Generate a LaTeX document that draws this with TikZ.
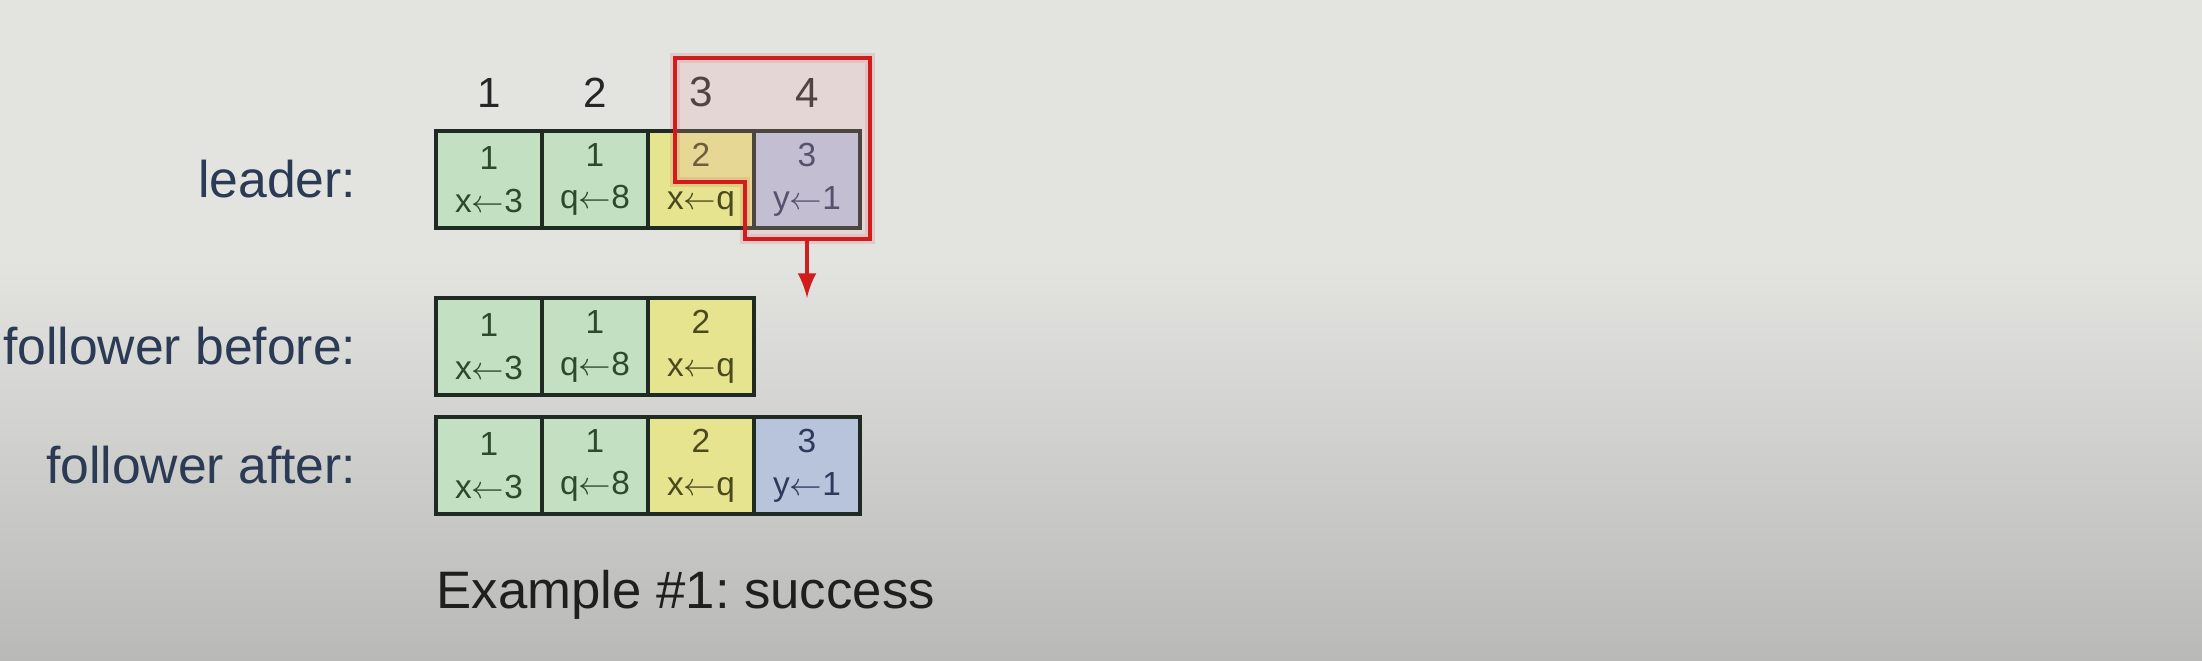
\documentclass[tikz,border=0pt]{standalone}
\usepackage{fontspec}
\setmainfont{Liberation Sans}
\usetikzlibrary{positioning, arrows}
\frenchspacing

\definecolor{bgtop}{HTML}{E3E3E0}
\definecolor{bgbot}{HTML}{B9B9B7}
\definecolor{cellgreen}{HTML}{C4E0C2}
\definecolor{cellyellow}{HTML}{E6E48E}
\definecolor{cellblue}{HTML}{B8C4DC}
\definecolor{txtgreen}{HTML}{2D4A2D}
\definecolor{txtyellow}{HTML}{4A4A1E}
\definecolor{txtblue}{HTML}{2C3A5C}
\definecolor{cellline}{HTML}{1F2A22}
\definecolor{labelblue}{HTML}{2B3A55}
\definecolor{winred}{HTML}{D01C1C}
\definecolor{winfill}{HTML}{EBAAAF}

\tikzset{
	cell/.style={draw=cellline, line width=1.1pt, minimum width=1.06cm, minimum height=0.97cm,
		inner sep=0pt, outer sep=0pt, align=center, font=\fontsize{9.5}{12.2}\selectfont},
	gcell/.style={cell, fill=cellgreen, text=txtgreen},
	ycell/.style={cell, fill=cellyellow, text=txtyellow},
	bcell/.style={cell, fill=cellblue, text=txtblue},
	rowlabel/.style={inner sep=0pt, text=labelblue, font=\fontsize{14.7}{17}\selectfont},
	colnum/.style={inner sep=0pt, text=black!85, font=\fontsize{12}{14}\selectfont},
	window/.style={draw=winred, line width=1.4pt, fill=winfill, fill opacity=0.22,
		preaction={draw=winred, draw opacity=0.12, line width=3pt}},
	caption/.style={inner sep=0pt, text=black!88, font=\fontsize{15}{18}\selectfont}
}

\begin{document}
\begin{tikzpicture}
	% background
	\fill[bgtop] (0,0) rectangle (22.02,-2.62);
	\shade[top color=bgtop, bottom color=bgbot] (0,-2.6) rectangle (22.02,-6.6);

	% leader
	\node[gcell] (l1) at (4.89,-1.795) {1\\x$\leftarrow$3};
	\node[gcell, right=0pt of l1] (l2) {1\\q$\leftarrow$8};
	\node[ycell, right=0pt of l2] (l3) {2\\x$\leftarrow$q};
	\node[bcell, right=0pt of l3] (l4) {3\\y$\leftarrow$1};

	% follower before
	\node[gcell, below=0.7cm of l1] (b1) {1\\x$\leftarrow$3};
	\node[gcell, right=0pt of b1] (b2) {1\\q$\leftarrow$8};
	\node[ycell, right=0pt of b2] (b3) {2\\x$\leftarrow$q};

	% follower after
	\node[gcell, below=0.22cm of b1] (a1) {1\\x$\leftarrow$3};
	\node[gcell, right=0pt of a1] (a2) {1\\q$\leftarrow$8};
	\node[ycell, right=0pt of a2] (a3) {2\\x$\leftarrow$q};
	\node[bcell, right=0pt of a3] (a4) {3\\y$\leftarrow$1};

	\node[colnum, above=0.23cm of l1] (c1) {1};
	\node[colnum, above=0.23cm of l2] (c2) {2};
	\node[colnum, above=0.23cm of l3] (c3) {3};
	\node[colnum, above=0.23cm of l4] (c4) {4};

	\node[rowlabel, left=0.79cm of l1] (leader) {leader:};
	\node[rowlabel, left=0.79cm of b1] (before) {follower before:};
	\node[rowlabel, left=0.79cm of a1] (after) {follower after:};

	% window sent to the follower
	\coordinate (wtl) at (6.75,-0.58);
	\coordinate (wbr) at (8.70,-2.39);
	\coordinate (wstep) at (7.45,-1.82);
	\draw[window] (wtl) -| (wbr) -| (wstep) -| (wtl) -- cycle;
	\coordinate (wout) at (l4.center |- wbr);
	\draw[-latex, draw=winred, fill=winred, line width=1.4pt] (wout) -- (l4.center |- b1.north);

	\node[caption, below=0.56cm of a1.south west, anchor=north west] (ex) {Example \#1: success};
\end{tikzpicture}
\end{document}
